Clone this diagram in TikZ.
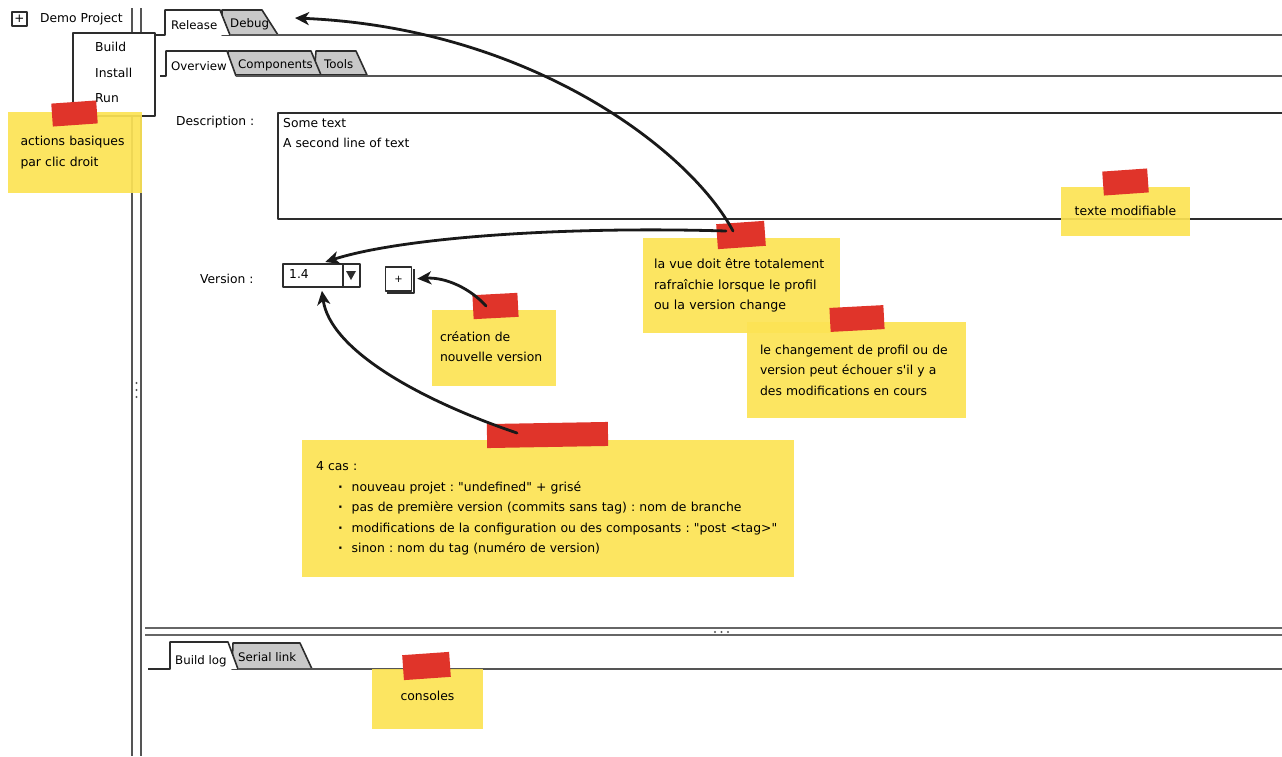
\documentclass[tikz,border=0pt]{standalone}
\usepackage{fontspec}
\setmainfont{DejaVu Sans}[Ligatures=TeXOff]
\usetikzlibrary{arrows.meta,calc}
\definecolor{noteY}{RGB}{252,227,84}
\definecolor{tapeR}{RGB}{224,52,42}
\definecolor{tabG}{RGB}{200,200,200}
\definecolor{wl}{RGB}{45,45,45}
\definecolor{pl}{RGB}{85,85,85}
\frenchspacing
\begin{document}
\begin{tikzpicture}[x=1pt,y=-1pt,
  lbl/.style={anchor=base west, inner sep=0pt, font=\fontsize{12.3}{14}\selectfont},
  tablbl/.style={anchor=base west, inner sep=0pt, font=\fontsize{11.8}{14}\selectfont},
  wline/.style={draw=wl, line width=1.6pt, line join=round},
  pline/.style={draw=pl, line width=1.8pt},
  note/.style={fill=noteY, fill opacity=0.92, text opacity=1, inner xsep=13pt, inner ysep=0pt, align=left, font=\fontsize{12.4}{20.5}\selectfont, execute at begin node={\hyphenpenalty=10000}},
  tapebox/.style={fill=tapeR, inner sep=0pt},
  conn/.style={line width=2.8pt, draw=black!90, -{Stealth[length=14pt,width=13pt,inset=4pt]}, line cap=round}]

\useasboundingbox (0,0) rectangle (1282,756);
\fill[white] (0,0) rectangle (1282,756);

% left frame lines
\draw[pline] (132,8) -- (132,756);
\draw[pline] (141,8) -- (141,756);
\foreach \yy in {383,390,397} \fill[pl] (136.5,\yy) circle (1.2);

% project tree
\node[wline, minimum width=15pt, minimum height=14pt, inner sep=0pt, font=\fontsize{12}{12}\selectfont] (plusbox) at (19.5,19) {+};
\node[lbl] (proj) at (40,22.5) {Demo Project};

% top tabs
\filldraw[fill=tabG, wline] (222,35) -- (222,10) -- (262,10) -- (278,35) -- cycle;
\fill[white] (165,35) -- (165,10) -- (220,10) -- (230,35) -- cycle;
\draw[wline] (145,35) -- (165,35) -- (165,10) -- (220,10) -- (230,35);
\draw[pline] (230,35) -- (1282,35);
\node[tablbl] (tabRelease) at (171,29.5) {Release};
\node[tablbl] (tabDebug) at (230,27.5) {Debug};

% second tabs
\filldraw[fill=tabG, wline] (314,75) -- (316,51) -- (356,51) -- (367,75) -- cycle;
\filldraw[fill=tabG, wline] (228,75) -- (228,51) -- (311,51) -- (321,75) -- cycle;
\fill[white] (166,76) -- (166,51) -- (227,51) -- (236,76) -- cycle;
\draw[wline] (160,76) -- (166,76) -- (166,51) -- (227,51) -- (236,76);
\draw[pline] (236,76) -- (1282,76);
\node[tablbl] (tabOverview) at (171,70.5) {Overview};
\node[tablbl] (tabComponents) at (238,68.5) {Components};
\node[tablbl] (tabTools) at (324,68.5) {Tools};

% context menu
\node[wline, fill=white, minimum width=82pt, minimum height=83pt, inner sep=0pt] (menu) at (114,74.5) {};
\node[lbl] (mBuild) at (95,51.5) {Build};
\node[lbl] (mInstall) at (95,77.5) {Install};
\node[lbl] (mRun) at (95,102.5) {Run};

% description
\node[lbl] (descl) at (176,125.5) {Description :};
\node[wline, minimum width=1020pt, minimum height=106pt, anchor=north west, inner sep=0pt] (descbox) at (277,112) {};
\node[lbl] (desc1) at (283,127.5) {Some text};
\node[lbl] (desc2) at (283,147.5) {A second line of text};

% version
\node[lbl] (verl) at (200,283.5) {Version :};
\node[wline, fill=white, minimum width=77pt, minimum height=23pt, inner sep=0pt] (combo) at (321.5,275.5) {};
\draw[wline] ($(combo.north east)+(-18,0)$) -- ($(combo.south east)+(-18,0)$);
\fill[wl] (346,271) -- (356,271) -- (351,280) -- cycle;
\node[lbl] (verval) at (289,278) {1.4};
\draw[wline] (387,293) -- (414,293) -- (414,269);
\node[wline, fill=white, minimum width=26pt, minimum height=24pt, inner sep=0pt, font=\fontsize{10}{10}\selectfont] (plusb) at (398.5,279) {+};

% bottom panel
\draw[pline, draw=gray!80!black] (145,628) -- (1282,628);
\draw[pline, draw=gray!80!black] (145,635) -- (1282,635);
\foreach \xx in {715,721.5,728} \fill[pl] (\xx,632) circle (1.2);
\filldraw[fill=tabG, wline] (232,669) -- (233,643) -- (300,643) -- (312,669) -- cycle;
\fill[white] (170,669) -- (170,642) -- (228,642) -- (238,669) -- cycle;
\draw[wline] (148,669) -- (170,669) -- (170,642) -- (228,642) -- (238,669);
\draw[pline] (238,669) -- (1282,669);
\node[tablbl] (tabBuild) at (175,664.5) {Build log};
\node[tablbl] (tabSerial) at (238,661.5) {Serial link};

% sticky notes
\node[note, text width=108pt, minimum height=81pt] (n1) at (74.5,152.5) {actions basiques\\par clic droit};
\node[tapebox, minimum width=45pt, minimum height=23pt, rotate=4] (t1) at (74.5,113.5) {};

\node[note, align=center, text width=103pt, minimum height=49pt] (n2) at (1125.5,211.5) {\raisebox{2pt}{texte modifiable}};
\node[tapebox, minimum width=45pt, minimum height=24pt, rotate=4] (t2) at (1125.5,182) {};

\node[note, text width=175pt, inner xsep=11pt, minimum height=95pt, font=\fontsize{12.6}{20.5}\selectfont] (n3) at (741.5,285.5) {la vue doit être totalement\\rafraîchie lorsque le profil\\ou la version change};
\node[tapebox, minimum width=48pt, minimum height=25pt, rotate=4] (t3) at (741,235) {};

\node[note, text width=193pt, minimum height=96pt] (n4) at (856.5,370) {le changement de profil ou de\\version peut échouer s'il y a\\des modifications en cours};
\node[tapebox, minimum width=54pt, minimum height=24pt, rotate=3] (t4) at (857,318.5) {};

\node[note, inner xsep=8pt, text width=108pt, minimum height=76pt] (n5) at (494,348) {\raisebox{3pt}{création de}\\\raisebox{3pt}{nouvelle version}};
\node[tapebox, minimum width=45pt, minimum height=24pt, rotate=3] (t5) at (495.5,306) {};

\node[note, inner xsep=14pt, text width=464pt, minimum height=137pt] (n6) at (548,508.5) {4 cas :\\
\hspace*{22pt}\textbf{·}\hspace*{9pt}nouveau projet : "undefined" + grisé\\
\hspace*{22pt}\textbf{·}\hspace*{9pt}pas de première version (commits sans tag) : nom de branche\\
\hspace*{22pt}\textbf{·}\hspace*{9pt}modifications de la configuration ou des composants : "post <tag>"\\
\hspace*{22pt}\textbf{·}\hspace*{9pt}sinon : nom du tag (numéro de version)};
\node[tapebox, minimum width=121pt, minimum height=24pt, rotate=1] (t6) at (547.5,435) {};

\node[note, align=center, text width=85pt, minimum height=60pt] (n7) at (427.5,699) {\raisebox{6pt}{consoles}};
\node[tapebox, minimum width=47pt, minimum height=25pt, rotate=4] (t7) at (426.5,666) {};

% connectors
\coordinate (a1s) at (733,231);
\coordinate (a2s) at (726,231);
\coordinate (dbgtip) at (295,18);
\coordinate (a3s) at (486,306);
\coordinate (a4s) at (517,433);
\draw[conn] (a1s) .. controls (690,150) and (530,28) .. (dbgtip);
\draw[conn, shorten >=4pt] (a2s) .. controls (560,226) and (400,238) .. (combo.north);
\draw[conn, shorten >=5pt] (a3s) .. controls (470,288) and (445,277) .. (plusb.east);
\draw[conn, shorten >=3pt] (a4s) .. controls (420,400) and (330,350) .. (combo.south);
\end{tikzpicture}
\end{document}
